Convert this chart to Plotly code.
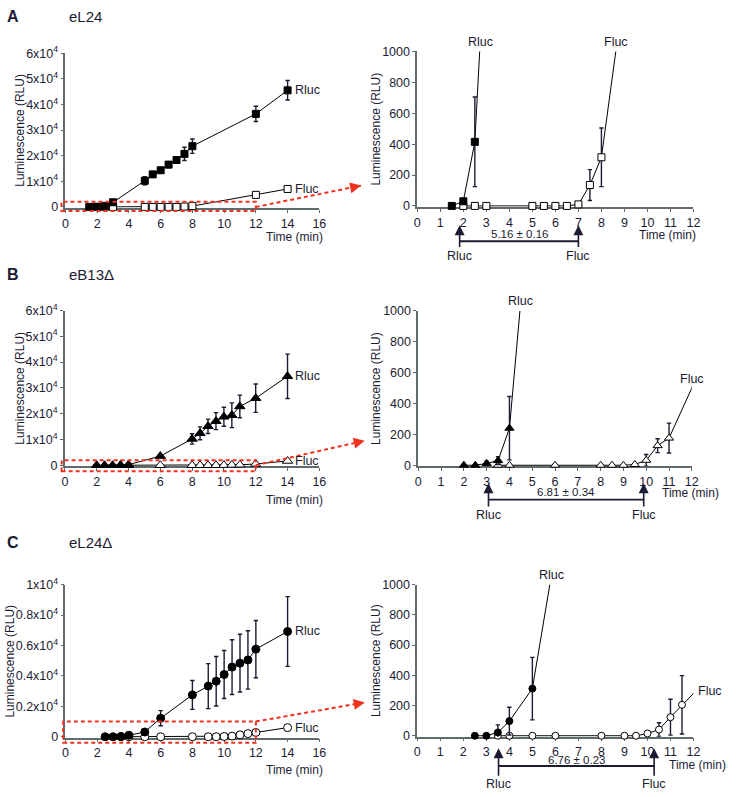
import plotly.graph_objects as go

# ---------------- data ----------------
# A  eL24
a_rluc_t = [1.5, 2, 2.5, 3, 5, 5.5, 6, 6.5, 7, 7.5, 8, 12, 14]
a_rluc = [0, 30, 415, 1800, 10200, 12700, 14300, 16500, 18300, 20700, 23700, 36300, 45500]
a_rluc_err = [0, 15, 290, 400, 1600, 1000, 700, 1100, 1100, 2600, 2800, 3000, 3800]
a_fluc_t = [2, 2.5, 3, 5, 5.5, 6, 6.5, 7, 7.5, 8, 12, 14]
a_fluc = [0, 0, 0, 0, 0, 0, 0, 10, 135, 315, 4700, 7000]
a_fluc_err = [0, 0, 0, 0, 0, 0, 0, 5, 100, 190, 300, 350]
a_onsets = [1.84, 7.00]
a_gap = "5.16 ± 0.16"

# B  eB13Δ
b_rluc_t = [2, 2.5, 3, 3.5, 4, 6, 8, 8.5, 9, 9.5, 10, 10.5, 11, 12, 14]
b_rluc = [0, 0, 12, 30, 240, 3550, 10200, 12400, 15100, 17100, 18800, 19400, 22800, 26000, 34500]
b_rluc_err = [0, 3, 15, 25, 205, 500, 2000, 2500, 2800, 3300, 3700, 4800, 4400, 5500, 8600]
b_fluc_t = [3.5, 4, 6, 8, 8.5, 9, 9.5, 10, 10.5, 11, 12, 14]
b_fluc = [0, 0, 0, 0, 0, 0, 5, 32, 127, 176, 500, 1650]
b_fluc_err = [0, 0, 0, 0, 0, 0, 5, 38, 45, 97, 150, 300]
b_onsets = [3.08, 9.89]
b_gap = "6.81 ± 0.34"

# C  eL24Δ
c_rluc_t = [2.5, 3, 3.5, 4, 5, 6, 8, 9, 9.5, 10, 10.5, 11, 11.5, 12, 14]
c_rluc = [0, 0, 22, 97, 312, 1220, 2750, 3330, 3650, 4090, 4580, 4840, 5050, 5760, 6920]
c_rluc_err = [0, 0, 50, 92, 207, 500, 950, 1480, 1630, 1580, 1800, 1900, 1920, 1880, 2290]
c_fluc_t = [3.5, 4, 5, 6, 8, 9, 9.5, 10, 10.5, 11, 11.5, 12, 14]
c_fluc = [0, 0, 0, 0, 0, 0, 0, 15, 41, 123, 205, 280, 600]
c_fluc_err = [0, 0, 0, 0, 0, 0, 0, 8, 45, 119, 193, 100, 200]
c_onsets = [3.53, 10.29]
c_gap = "6.76 ± 0.23"

left_x_ticks = [0, 2, 4, 6, 8, 10, 12, 14, 16]
right_x_ticks = list(range(0, 13))
right_y_ticks = [0, 200, 400, 600, 800, 1000]
ab_y_ticks = [0, 10000, 20000, 30000, 40000, 50000, 60000]
ab_y_text = ["0", "1x10<sup>4</sup>", "2x10<sup>4</sup>", "3x10<sup>4</sup>",
             "4x10<sup>4</sup>", "5x10<sup>4</sup>", "6x10<sup>4</sup>"]
c_y_ticks = [0, 2000, 4000, 6000, 8000, 10000]
c_y_text = ["0", "0.2x10<sup>4</sup>", "0.4x10<sup>4</sup>", "0.6x10<sup>4</sup>",
            "0.8x10<sup>4</sup>", "1x10<sup>4</sup>"]

# ---------------- styling / layout ----------------
W, H = 736, 797
FONT = "Liberation Sans, Arial, sans-serif"
INK = "#1b1b33"
AXIS = "#5f6b6b"
RED = "#f0321e"


def px(x):
    return x / W


def py(y):
    return 1 - y / H


rows = [
    dict(letter="A", name="eL24", sym="square", msize=7, rmsize=7,
         rt=a_rluc_t, r=a_rluc, re=a_rluc_err, ft=a_fluc_t, f=a_fluc, fe=a_fluc_err,
         on=a_onsets, gap=a_gap, top=60000, yt=ab_y_ticks, ytt=ab_y_text,
         L=((63.3, 320.7), (201.7, 45.0)), R=((420, 700), (200.7, 43.3)),
         title_y=8, ytl_x=17, time_l_y=232, time_r=(705, 230),
         tip=220.5, bar=236.7, numy=229.0, lab=250.7,
         rtop=((2.75, 34), (8.63, 34)),
         rect=(-0.25, 12, -1600, 2000), astart=(12, 0), atip=(363, 180)),
    dict(letter="B", name="eB13Δ", sym="triangle-up", msize=9, rmsize=8,
         rt=b_rluc_t, r=b_rluc, re=b_rluc_err, ft=b_fluc_t, f=b_fluc, fe=b_fluc_err,
         on=b_onsets, gap=b_gap, top=60000, yt=ab_y_ticks, ytt=ab_y_text,
         L=((62.7, 320.7), (465.0, 307.3)), R=((421, 698.3), (465.0, 307.7)),
         title_y=271, ytl_x=17, time_l_y=500, time_r=(728, 493),
         tip=483.3, bar=500, numy=492.5, lab=515,
         rtop=((4.47, 298), (12.0, 377)),
         rect=(-0.2, 12, -2300, 1900), astart=(12, 0), atip=(366.7, 440)),
    dict(letter="C", name="eL24Δ", sym="circle", msize=8, rmsize=7,
         rt=c_rluc_t, r=c_rluc, re=c_rluc_err, ft=c_fluc_t, f=c_fluc, fe=c_fluc_err,
         on=c_onsets, gap=c_gap, top=10000, yt=c_y_ticks, ytt=c_y_text,
         L=((63.3, 320.7), (741.7, 586.7)), R=((420, 700), (740.7, 586.7)),
         title_y=544, ytl_x=7, time_l_y=776, time_r=(735, 770),
         tip=753.5, bar=771.5, numy=765, lab=789.5,
         rtop=((5.83, 577), (12.72, 695)),
         rect=(-0.14, 12, -400, 1000), astart=(12, 1000), atip=(366.7, 706.7)),
]

EPS = 0.006


def ydomain(p0, p1, top):
    s = (p0 - p1) / top
    bottom = p0 + EPS * top * s
    return [py(bottom), py(p1)]


fig = go.Figure()
layout = dict(width=W, height=H, margin=dict(l=0, r=0, t=0, b=0),
              paper_bgcolor="white", plot_bgcolor="white", showlegend=False,
              font=dict(family=FONT, color=INK, size=12))
annotations = []
shapes = []

axis_common = dict(showline=True, linecolor=AXIS, linewidth=1.6, ticks="outside",
                   ticklen=3, tickwidth=1.2, tickcolor=AXIS, showgrid=False,
                   zeroline=False, layer="below traces", fixedrange=True,
                   tickfont=dict(family=FONT, size=12.5, color=INK))


def marker(sym, size, filled):
    return dict(symbol=sym, size=size, color="black" if filled else "white",
                line=dict(color="black", width=1))


def err(arr):
    return dict(type="data", array=arr, color=INK, thickness=1.4, width=2.2)


for i, rw in enumerate(rows):
    li, ri = 2 * i + 1, 2 * i + 2
    lid = "" if li == 1 else str(li)
    rid = str(ri)
    (lx0, lx1), (ly0, ly1) = rw["L"]
    (rx0, rx1), (ry0, ry1) = rw["R"]
    top = rw["top"]

    layout["xaxis" + lid] = dict(axis_common, domain=[px(lx0), px(lx1)], range=[0, 16],
                                 tickvals=left_x_ticks, anchor="y" + lid)
    layout["yaxis" + lid] = dict(axis_common, domain=ydomain(ly0, ly1, top),
                                 range=[-EPS * top, top], tickvals=rw["yt"],
                                 ticktext=rw["ytt"], anchor="x" + lid)
    layout["xaxis" + rid] = dict(axis_common, domain=[px(rx0), px(rx1)], range=[0, 12],
                                 tickvals=right_x_ticks, anchor="y" + rid)
    layout["yaxis" + rid] = dict(axis_common, domain=ydomain(ry0, ry1, 1000),
                                 range=[-EPS * 1000, 1000], tickvals=right_y_ticks,
                                 anchor="x" + rid)

    # ---- left (full time course) ----
    for t, v, e, filled in ((rw["ft"], rw["f"], rw["fe"], False),
                            (rw["rt"], rw["r"], rw["re"], True)):
        fig.add_trace(go.Scatter(x=t, y=v, mode="lines+markers", xaxis="x" + lid,
                                 yaxis="y" + lid, line=dict(color="black", width=1),
                                 marker=marker(rw["sym"], rw["msize"], filled),
                                 error_y=err(e), cliponaxis=False, hoverinfo="skip"))

    # ---- right (zoom to 0-1000 RLU, 0-12 min) ----
    for t, v, e, filled in ((rw["ft"], rw["f"], rw["fe"], False),
                            (rw["rt"], rw["r"], rw["re"], True)):
        fig.add_trace(go.Scatter(x=t, y=v, mode="lines", xaxis="x" + rid, yaxis="y" + rid,
                                 line=dict(color="black", width=1), hoverinfo="skip"))
        keep = [k for k in range(len(t)) if t[k] < 12 and v[k] <= 1000]
        fig.add_trace(go.Scatter(x=[t[k] for k in keep], y=[v[k] for k in keep],
                                 mode="markers", xaxis="x" + rid, yaxis="y" + rid,
                                 marker=marker(rw["sym"], rw["rmsize"], filled),
                                 error_y=err([e[k] for k in keep]), cliponaxis=False,
                                 hoverinfo="skip"))

    def lpx(xd):
        return px(lx0 + xd * (lx1 - lx0) / 16)

    def lpy(yd):
        return py(ly0 - yd * (ly0 - ly1) / top)

    def rpx(xd):
        return px(rx0 + xd * (rx1 - rx0) / 12)

    # panel letter and construct name
    annotations.append(dict(text="<b>%s</b>" % rw["letter"], x=px(2), y=py(rw["title_y"]),
                            xref="paper", yref="paper", xanchor="left", yanchor="middle",
                            showarrow=False, font=dict(size=16, color=INK)))
    annotations.append(dict(text=rw["name"], x=px(65), y=py(rw["title_y"]),
                            xref="paper", yref="paper", xanchor="left", yanchor="middle",
                            showarrow=False, font=dict(size=15, color=INK)))
    # y titles
    annotations.append(dict(text="Luminescence (RLU)", textangle=-90, x=px(rw["ytl_x"]),
                            y=py((ly0 + ly1) / 2), xref="paper", yref="paper",
                            xanchor="center", yanchor="middle", showarrow=False,
                            font=dict(size=12, color=INK)))
    annotations.append(dict(text="Luminescence (RLU)", textangle=-90, x=px(378),
                            y=py((ry0 + ry1) / 2), xref="paper", yref="paper",
                            xanchor="center", yanchor="middle", showarrow=False,
                            font=dict(size=12, color=INK)))
    # x titles
    annotations.append(dict(text="Time (min)", x=px(326), y=py(rw["time_l_y"]),
                            xref="paper", yref="paper", xanchor="right", yanchor="middle",
                            showarrow=False, font=dict(size=12, color=INK)))
    annotations.append(dict(text="Time (min)", x=px(rw["time_r"][0]), y=py(rw["time_r"][1]),
                            xref="paper", yref="paper", xanchor="right", yanchor="middle",
                            showarrow=False, font=dict(size=12, color=INK)))
    # series labels on left panel (next to last point)
    annotations.append(dict(text="Rluc", x=rw["rt"][-1], y=rw["r"][-1], xref="x" + lid,
                            yref="y" + lid, xanchor="left", yanchor="middle", xshift=5,
                            showarrow=False, font=dict(size=12.5, color=INK)))
    annotations.append(dict(text="Fluc", x=rw["ft"][-1], y=rw["f"][-1], xref="x" + lid,
                            yref="y" + lid, xanchor="left", yanchor="middle", xshift=5,
                            showarrow=False, font=dict(size=12.5, color=INK)))
    # series labels on right panel (at line ends)
    for (xd, ypix), lab in zip(rw["rtop"], ("Rluc", "Fluc")):
        annotations.append(dict(text=lab, x=rpx(xd), y=py(ypix), xref="paper", yref="paper",
                                xanchor="center", yanchor="middle", showarrow=False,
                                font=dict(size=12.5, color=INK)))
    # onset arrows + bracket
    for xd, lab in zip(rw["on"], ("Rluc", "Fluc")):
        annotations.append(dict(text=lab, x=rpx(xd), y=py(rw["tip"]), xref="paper",
                                yref="paper", showarrow=True, arrowhead=2, arrowsize=1.25,
                                arrowwidth=1.6, arrowcolor=INK, ax=0,
                                ay=rw["lab"] - rw["tip"], font=dict(size=12.5, color=INK)))
    shapes.append(dict(type="line", xref="paper", yref="paper", x0=rpx(rw["on"][0]),
                       x1=rpx(rw["on"][1]), y0=py(rw["bar"]), y1=py(rw["bar"]),
                       line=dict(color=INK, width=1.8)))
    annotations.append(dict(text=rw["gap"], x=rpx(sum(rw["on"]) / 2), y=py(rw["numy"]),
                            xref="paper", yref="paper", xanchor="center", yanchor="middle",
                            showarrow=False, font=dict(size=11.5, color=INK)))
    # red dashed zoom box and arrow
    x0, x1, y0, y1 = rw["rect"]
    shapes.append(dict(type="rect", xref="paper", yref="paper", x0=lpx(x0), x1=lpx(x1),
                       y0=lpy(y0), y1=lpy(y1),
                       line=dict(color=RED, width=2, dash="4px,3px")))
    sx, sy = lpx(rw["astart"][0]), lpy(rw["astart"][1])
    tx, ty = px(rw["atip"][0]), py(rw["atip"][1])
    shapes.append(dict(type="line", xref="paper", yref="paper", x0=sx, y0=sy, x1=tx, y1=ty,
                       line=dict(color=RED, width=2, dash="4px,3px")))
    dxp = (tx - sx) * W
    dyp = -(ty - sy) * H
    n = (dxp ** 2 + dyp ** 2) ** 0.5
    annotations.append(dict(text="", x=tx, y=ty, xref="paper", yref="paper", showarrow=True,
                            arrowhead=2, arrowsize=1.1, arrowwidth=2, arrowcolor=RED,
                            ax=-dxp / n * 8, ay=-dyp / n * 8))

layout["annotations"] = annotations
layout["shapes"] = shapes
fig.update_layout(**layout)
# the page body has a default 8px margin; remove it so the figure fills the window exactly
fig.write_html("out.html", config={"displayModeBar": False},
               post_script="document.body.style.margin='0px';")
